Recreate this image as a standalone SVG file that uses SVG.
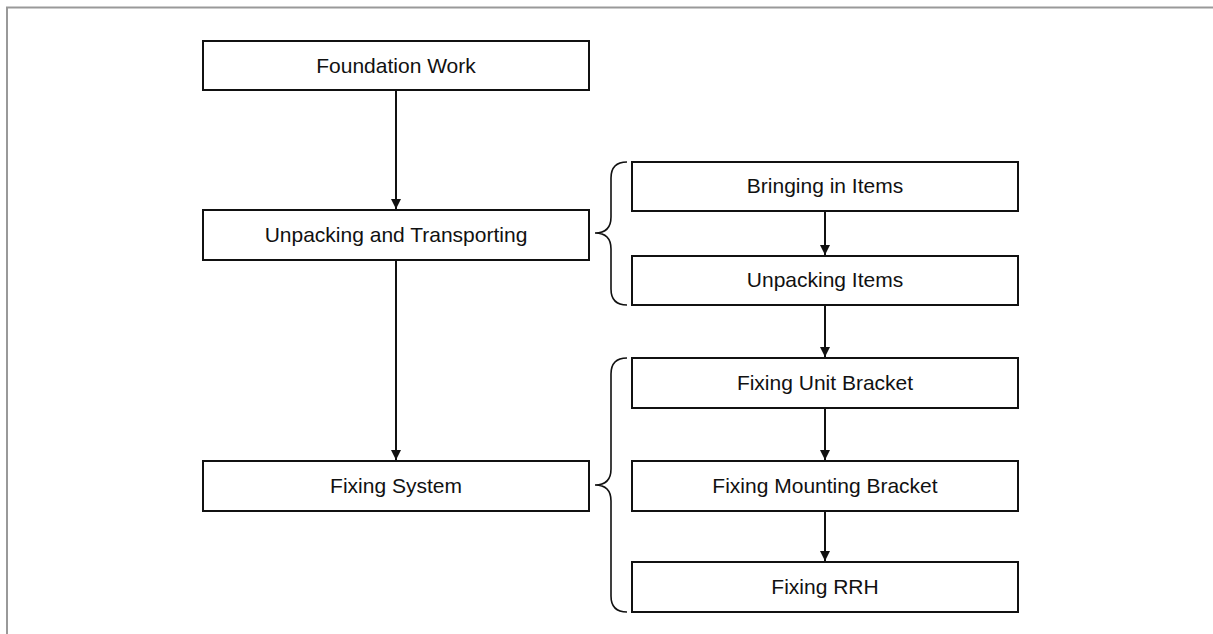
<svg xmlns="http://www.w3.org/2000/svg" width="1213" height="634" viewBox="0 0 1213 634">
<style>
.box{fill:#fff;stroke:#111;stroke-width:2}
.lbl{font-family:"Liberation Sans",Arial,sans-serif;font-size:21px;fill:#111;text-anchor:middle}
.conn{stroke:#111;stroke-width:2;fill:none}
.brace{stroke:#111;stroke-width:1.6;fill:none}
</style>
<defs>
<marker id="ah" viewBox="0 0 10 10" refX="10" refY="5" markerWidth="10" markerHeight="10" markerUnits="userSpaceOnUse" orient="auto">
<path d="M0,0 L10,5 L0,10 Z" fill="#111"/>
</marker>
</defs>
<rect x="0" y="0" width="1213" height="634" fill="#fff"/>
<path d="M7,634 L7,7.5 L1213,7.5" fill="none" stroke="#999" stroke-width="2"/>
<g id="connectors">
<line class="conn" x1="396" y1="90" x2="396" y2="209" marker-end="url(#ah)"/>
<line class="conn" x1="396" y1="260" x2="396" y2="460" marker-end="url(#ah)"/>
<line class="conn" x1="825" y1="211" x2="825" y2="255" marker-end="url(#ah)"/>
<line class="conn" x1="825" y1="305" x2="825" y2="357" marker-end="url(#ah)"/>
<line class="conn" x1="825" y1="408" x2="825" y2="460" marker-end="url(#ah)"/>
<line class="conn" x1="825" y1="511" x2="825" y2="561" marker-end="url(#ah)"/>
<path class="brace" d="M627,162 Q611,162 611,178 L611,217 Q611,233 595,233 Q611,233 611,249 L611,289 Q611,305 627,305"/>
<path class="brace" d="M627,358 Q611,358 611,374 L611,469 Q611,485 595,485 Q611,485 611,501 L611,596 Q611,612 627,612"/>
</g>
<g id="foundation"><rect class="box" x="203" y="41" width="386" height="49"/><text class="lbl" x="396" y="73">Foundation Work</text></g>
<g id="unpacking-transporting"><rect class="box" x="203" y="210" width="386" height="50"/><text class="lbl" x="396" y="242">Unpacking and Transporting</text></g>
<g id="fixing-system"><rect class="box" x="203" y="461" width="386" height="50"/><text class="lbl" x="396" y="493">Fixing System</text></g>
<g id="bringing-in"><rect class="box" x="632" y="162" width="386" height="49"/><text class="lbl" x="825" y="193">Bringing in Items</text></g>
<g id="unpacking-items"><rect class="box" x="632" y="256" width="386" height="49"/><text class="lbl" x="825" y="287">Unpacking Items</text></g>
<g id="fixing-unit"><rect class="box" x="632" y="358" width="386" height="50"/><text class="lbl" x="825" y="390">Fixing Unit Bracket</text></g>
<g id="fixing-mounting"><rect class="box" x="632" y="461" width="386" height="50"/><text class="lbl" x="825" y="493">Fixing Mounting Bracket</text></g>
<g id="fixing-rrh"><rect class="box" x="632" y="562" width="386" height="50"/><text class="lbl" x="825" y="594">Fixing RRH</text></g>
</svg>
